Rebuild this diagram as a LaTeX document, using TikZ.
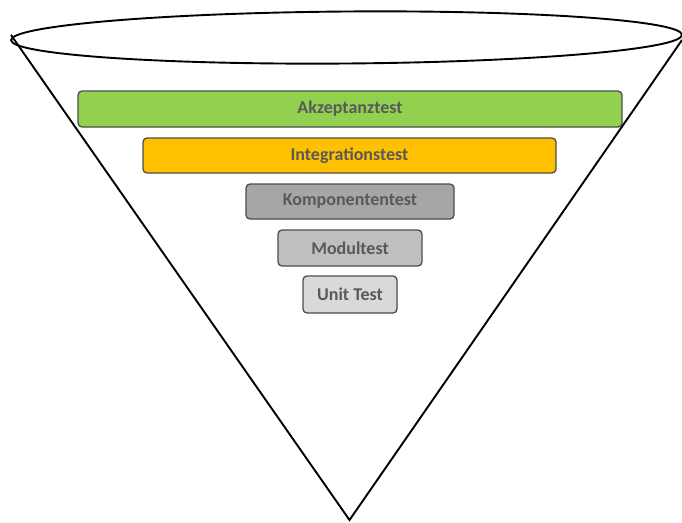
\documentclass[tikz,border=0pt]{standalone}
\usepackage{fontspec}
\setmainfont{Carlito}
\begin{document}
\begin{tikzpicture}[x=1pt,y=-1pt,
  layer/.style={draw=black!70,line width=1.3pt,rounded corners=4pt,inner sep=0pt,
    font=\fontsize{18}{21}\selectfont\bfseries,text=black!65},
  funnelline/.style={line width=1.9pt,black}]
\useasboundingbox (0,0) rectangle (682,522);
\begin{scope}
\clip (0,0) rectangle (682,522);
\draw[funnelline,rotate around={0.45:(346.5,37.5)}] (346.5,37.5) ellipse [x radius=335.5, y radius=26];
\coordinate (L) at (11,35);
\coordinate (R) at (682,40);
\coordinate (B) at (349.5,520);
\draw[funnelline,line join=miter] (L) -- (B) -- (R);
\end{scope}
\node[layer,fill={rgb,255:red,146;green,208;blue,80},minimum width=544pt,minimum height=36pt] (akz) at (350,109) {Akzeptanztest};
\node[layer,fill={rgb,255:red,255;green,192;blue,0},minimum width=413pt,minimum height=35pt] (int) at (349.5,155.5) {Integrationstest};
\node[layer,fill={rgb,255:red,166;green,166;blue,166},minimum width=208pt,minimum height=35pt] (kom) at (350,201.5) {Komponententest};
\node[layer,fill={rgb,255:red,191;green,191;blue,191},minimum width=144pt,minimum height=36pt] (mod) at (350,248) {Modultest};
\node[layer,fill={rgb,255:red,217;green,217;blue,217},minimum width=94pt,minimum height=37pt] (unit) at (350,294.5) {Unit Test};
\end{tikzpicture}
\end{document}
